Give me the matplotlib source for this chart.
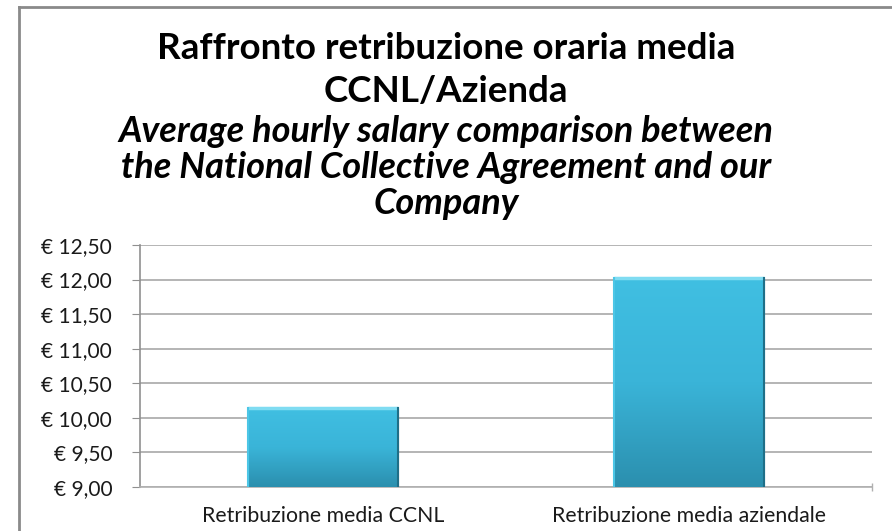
import matplotlib
matplotlib.use("Agg")
import matplotlib.pyplot as plt
import numpy as np
from matplotlib.lines import Line2D
from matplotlib.colors import LinearSegmentedColormap

categories = ["Retribuzione media CCNL", "Retribuzione media aziendale"]
values = [10.14, 12.02]
yticks = [9.0, 9.5, 10.0, 10.5, 11.0, 11.5, 12.0, 12.5]
ytick_labels = ["€ 9,00", "€ 9,50", "€ 10,00", "€ 10,50", "€ 11,00", "€ 11,50", "€ 12,00", "€ 12,50"]
title_it = ["Raffronto retribuzione oraria media", "CCNL/Azienda"]
title_en = ["Average hourly salary comparison between",
            "the National Collective Agreement and our",
            "Company"]

plt.rcParams['font.family'] = ['Lato', 'DejaVu Sans']

W, H = 892, 531
fig = plt.figure(figsize=(W/100, H/100), dpi=100)
fig.patch.set_facecolor("white")

# outer frame (left and top visible)
fig.add_artist(Line2D([19/W, 19/W], [0, 1-7/H], transform=fig.transFigure, color="#8a8a8a", lw=2))
fig.add_artist(Line2D([19/W, 1], [1-7/H, 1-7/H], transform=fig.transFigure, color="#8a8a8a", lw=2))

ax = fig.add_axes([140/W, 1-487/H, (872-140)/W, (487-245)/H])
x = np.arange(len(categories))
bars = ax.bar(x, values, width=0.41, color="#37afd2", edgecolor="#2a8aa6", linewidth=0.8, zorder=3)

grad = np.linspace(0, 1, 256).reshape(-1, 1)
cmap = LinearSegmentedColormap.from_list("g", ["#2b8fae", "#3ab4d8", "#40bfe2"])
for b in bars:
    x0, w = b.get_x(), b.get_width()
    y1 = b.get_height()
    im = ax.imshow(grad, extent=[x0, x0 + w, 9.0, y1], origin="lower", cmap=cmap,
                   aspect="auto", zorder=3.5)
    im.set_clip_path(b)
    ax.plot([x0, x0 + w], [y1, y1], color="#7fdcf2", lw=2.5, zorder=4, solid_capstyle="butt")
    ax.plot([x0, x0], [9.0, y1], color="#4cc6e6", lw=1.5, zorder=4)
    ax.plot([x0 + w, x0 + w], [9.0, y1], color="#1f6f88", lw=1.5, zorder=4)

ax.set_xlim(-0.5, 1.5)
ax.set_ylim(9.0, 12.5)
ax.set_yticks(yticks)
ax.set_yticklabels(ytick_labels, fontsize=15, color="#1a1a1a")
ax.set_xticks(x)
ax.set_xticklabels(categories, fontsize=15.3, color="#1a1a1a")
ax.tick_params(axis="x", length=0, pad=14)
ax.tick_params(axis="y", direction="out", length=6, color="#909090", pad=14)
ax.yaxis.grid(True, color="#a8a8a8", lw=1.2, zorder=0)
ax.set_axisbelow(True)
ax.spines["top"].set_visible(False)
ax.spines["right"].set_visible(False)
ax.spines["left"].set_color("#909090")
ax.spines["bottom"].set_color("#b0b0b0")
ax.spines["left"].set_linewidth(1.2)
ax.spines["bottom"].set_linewidth(1.2)
ax.plot([1.0], [0.0], transform=ax.transAxes, marker="|", markersize=6, color="#b0b0b0", clip_on=False)

fig.text(0.5, 1-48/H, title_it[0], ha="center", va="center", fontsize=26.5, fontweight="bold")
fig.text(0.5, 1-91/H, title_it[1], ha="center", va="center", fontsize=26.5, fontweight="bold")
for i, line in enumerate(title_en):
    fig.text(0.5, 1-(132+36*i)/H, line, ha="center", va="center", fontsize=26,
             fontweight="bold", fontstyle="italic")

fig.savefig("out.png", dpi=100)
